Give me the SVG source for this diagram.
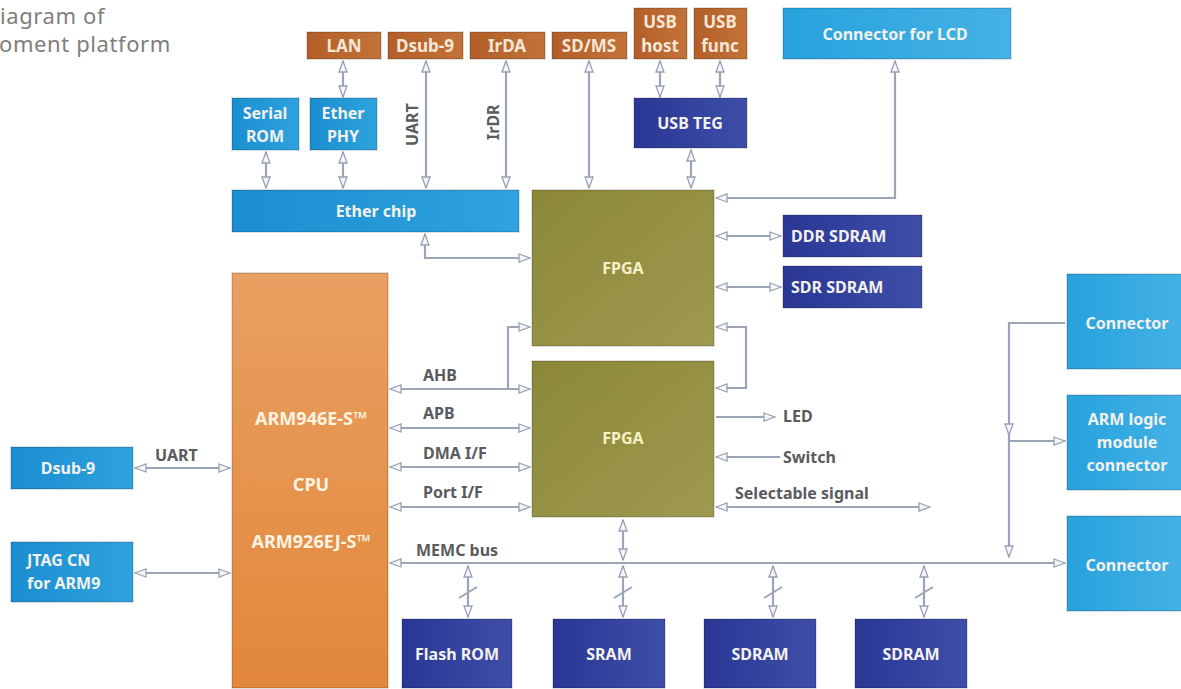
<svg xmlns="http://www.w3.org/2000/svg" width="1181" height="689" viewBox="0 0 1181 689">
<defs>
<linearGradient id="gOr" x1="0" y1="0" x2="1" y2="0"><stop offset="0" stop-color="#B35E28"/><stop offset="1" stop-color="#C2733A"/></linearGradient>
<linearGradient id="gLb" x1="0" y1="0" x2="1" y2="0"><stop offset="0" stop-color="#1A8ED0"/><stop offset="1" stop-color="#2FA3DF"/></linearGradient>
<linearGradient id="gLb2" x1="0" y1="0" x2="1" y2="0"><stop offset="0" stop-color="#27A2DD"/><stop offset="1" stop-color="#45B2E6"/></linearGradient>
<linearGradient id="gDb" x1="0" y1="0" x2="1" y2="0"><stop offset="0" stop-color="#2A3795"/><stop offset="1" stop-color="#3E4EA8"/></linearGradient>
<linearGradient id="gOl" x1="0" y1="0" x2="1" y2="1"><stop offset="0" stop-color="#8C8838"/><stop offset="1" stop-color="#9E9950"/></linearGradient>
<linearGradient id="gCpu" x1="0" y1="0" x2="0" y2="1"><stop offset="0" stop-color="#E9A062"/><stop offset="1" stop-color="#E2873A"/></linearGradient>
<marker id="ah" viewBox="0 0 13 10" refX="12" refY="5" markerWidth="13" markerHeight="10" markerUnits="userSpaceOnUse" orient="auto-start-reverse">
<path d="M1,1 L12,5 L1,9 z" fill="#F4F6FA" stroke="#98A1B4" stroke-width="1.3"/>
</marker>
<style>
.box{stroke:#000;stroke-opacity:0.25;stroke-width:1}
.or{fill:url(#gOr)}
.lb{fill:url(#gLb)}
.lb2{fill:url(#gLb2)}
.db{fill:url(#gDb)}
.ol{fill:url(#gOl)}
.cpu{fill:url(#gCpu)}
.t{font-family:"Noto Sans","DejaVu Sans",sans-serif;font-weight:bold;font-size:16px;fill:#F3F1EC;text-anchor:middle}
.st{text-anchor:start}
.tor{fill:#F6E7D8;font-size:17px}
.tol{fill:#F8F1C6}
.tcpu{fill:#FFF3E2;font-size:18px}
.lbl{font-family:"Noto Sans","DejaVu Sans",sans-serif;font-weight:bold;font-size:16px;fill:#5A5B5E}
.ln{fill:none;stroke:#9CA5B8;stroke-width:2.2}
.b{marker-start:url(#ah);marker-end:url(#ah)}
.e{marker-end:url(#ah)}
.sl{stroke:#9CA5B8;stroke-width:2}
</style>
</defs>
<rect width="1181" height="689" fill="#FFFFFF"/>
<g id="title" font-family="'Noto Sans','DejaVu Sans',sans-serif" font-size="22" letter-spacing="0.6" fill="#7E7E7E">
<text x="0" y="24">iagram of</text>
<text x="-1" y="52">oment platform</text>
</g>

<g id="connectors">
<path class="ln b" d="M343,61 V97"/>
<path class="ln b" d="M266,152 V188"/>
<path class="ln b" d="M343,152 V188"/>
<path class="ln b" d="M426,61 V188"/>
<path class="ln b" d="M506,61 V188"/>
<path class="ln b" d="M589,61 V188"/>
<path class="ln b" d="M660,61 V97"/>
<path class="ln b" d="M720,61 V97"/>
<path class="ln b" d="M691,150 V188"/>
<path class="ln b" d="M716,198 H895 V61"/>
<path class="ln b" d="M716,236 H781"/>
<path class="ln b" d="M716,287 H781"/>
<path class="ln b" d="M425,234 V258 H530"/>
<path class="ln b" d="M716,327 H746 V388 H716"/>
<path class="ln b" d="M390,389 H530"/>
<path class="ln e" d="M508,389 V327 H530"/>
<path class="ln b" d="M390,428 H530"/>
<path class="ln b" d="M390,467 H530"/>
<path class="ln b" d="M390,507 H530"/>
<path class="ln e" d="M716,417 H775"/>
<path class="ln e" d="M780,457 H716"/>
<path class="ln b" d="M716,507 H930"/>
<path class="ln b" d="M135,468 H230"/>
<path class="ln b" d="M135,573 H230"/>
<path class="ln b" d="M390,563 H1065"/>
<path class="ln b" d="M623,520 V560"/>
<path class="ln b" d="M468,566 V617"/>
<path class="ln b" d="M623,566 V617"/>
<path class="ln b" d="M773,566 V617"/>
<path class="ln b" d="M924,566 V617"/>
<line class="sl" x1="459" y1="598" x2="477" y2="587"/>
<line class="sl" x1="614" y1="598" x2="632" y2="587"/>
<line class="sl" x1="764" y1="598" x2="782" y2="587"/>
<line class="sl" x1="915" y1="598" x2="933" y2="587"/>
<path class="ln e" d="M1065,323 H1009 V435"/>
<path class="ln e" d="M1009,435 V441 H1065"/>
<path class="ln e" d="M1009,441 V557"/>
<text class="lbl" transform="translate(418,146) rotate(-90)">UART</text>
<text class="lbl" transform="translate(499,140) rotate(-90)">IrDR</text>
<text class="lbl" x="423" y="381">AHB</text>
<text class="lbl" x="423" y="419">APB</text>
<text class="lbl" x="423" y="459">DMA I/F</text>
<text class="lbl" x="423" y="498">Port I/F</text>
<text class="lbl" x="783" y="422">LED</text>
<text class="lbl" x="783" y="463">Switch</text>
<text class="lbl" x="735" y="499">Selectable signal</text>
<text class="lbl" x="155" y="461">UART</text>
<text class="lbl" x="416" y="556">MEMC bus</text>
</g>

<g id="n-lan"><rect class="box or" x="307" y="32" width="74" height="27"/><text class="t tor" x="344" y="52">LAN</text></g>
<g id="n-dsub9-top"><rect class="box or" x="388" y="32" width="75" height="27"/><text class="t tor" x="425" y="52">Dsub-9</text></g>
<g id="n-irda"><rect class="box or" x="470" y="32" width="75" height="27"/><text class="t tor" x="507" y="52">IrDA</text></g>
<g id="n-sdms"><rect class="box or" x="552" y="32" width="75" height="27"/><text class="t tor" x="589" y="52">SD/MS</text></g>
<g id="n-usbhost"><rect class="box or" x="634" y="8" width="53" height="51"/><text class="t tor" x="660" y="28">USB</text><text class="t tor" x="660" y="52">host</text></g>
<g id="n-usbfunc"><rect class="box or" x="694" y="8" width="53" height="51"/><text class="t tor" x="720" y="28">USB</text><text class="t tor" x="720" y="52">func</text></g>
<g id="n-lcd"><rect class="box lb2" x="783" y="8" width="228" height="51"/><text class="t" x="895" y="40">Connector for LCD</text></g>
<g id="n-serialrom"><rect class="box lb" x="232" y="98" width="67" height="52"/><text class="t" x="265" y="119">Serial</text><text class="t" x="265" y="142">ROM</text></g>
<g id="n-etherphy"><rect class="box lb" x="310" y="98" width="67" height="52"/><text class="t" x="343" y="119">Ether</text><text class="t" x="343" y="142">PHY</text></g>
<g id="n-usbteg"><rect class="box db" x="634" y="98" width="113" height="50"/><text class="t" x="690" y="129">USB TEG</text></g>
<g id="n-etherchip"><rect class="box lb" x="232" y="190" width="287" height="42"/><text class="t" x="376" y="217">Ether chip</text></g>
<g id="n-fpga1"><rect class="box ol" x="532" y="190" width="182" height="156"/><text class="t tol" x="623" y="274">FPGA</text></g>
<g id="n-ddr"><rect class="box db" x="783" y="215" width="139" height="42"/><text class="t st" x="791" y="242">DDR SDRAM</text></g>
<g id="n-sdr"><rect class="box db" x="783" y="266" width="139" height="42"/><text class="t st" x="791" y="293">SDR SDRAM</text></g>
<g id="n-cpu"><rect class="box cpu" x="232" y="273" width="156" height="415"/>
<text class="t tcpu" x="311" y="425">ARM946E-S™</text><text class="t tcpu" x="311" y="491">CPU</text><text class="t tcpu" x="311" y="548">ARM926EJ-S™</text></g>
<g id="n-fpga2"><rect class="box ol" x="532" y="361" width="182" height="156"/><text class="t tol" x="623" y="444">FPGA</text></g>
<g id="n-conn1"><rect class="box lb2" x="1067" y="274" width="120" height="95"/><text class="t" x="1127" y="329">Connector</text></g>
<g id="n-armlogic"><rect class="box lb2" x="1067" y="395" width="120" height="95"/><text class="t" x="1127" y="425">ARM logic</text><text class="t" x="1127" y="448">module</text><text class="t" x="1127" y="471">connector</text></g>
<g id="n-conn2"><rect class="box lb2" x="1067" y="516" width="120" height="95"/><text class="t" x="1127" y="571">Connector</text></g>
<g id="n-dsub9-left"><rect class="box lb" x="11" y="447" width="122" height="42"/><text class="t" x="68" y="474">Dsub-9</text></g>
<g id="n-jtag"><rect class="box lb" x="11" y="542" width="122" height="60"/><text class="t st" x="27" y="566">JTAG CN</text><text class="t st" x="27" y="589">for ARM9</text></g>
<g id="n-flash"><rect class="box db" x="402" y="619" width="110" height="69"/><text class="t" x="457" y="660">Flash ROM</text></g>
<g id="n-sram"><rect class="box db" x="553" y="619" width="112" height="69"/><text class="t" x="609" y="660">SRAM</text></g>
<g id="n-sdram1"><rect class="box db" x="704" y="619" width="112" height="69"/><text class="t" x="760" y="660">SDRAM</text></g>
<g id="n-sdram2"><rect class="box db" x="855" y="619" width="112" height="69"/><text class="t" x="911" y="660">SDRAM</text></g>
</svg>
